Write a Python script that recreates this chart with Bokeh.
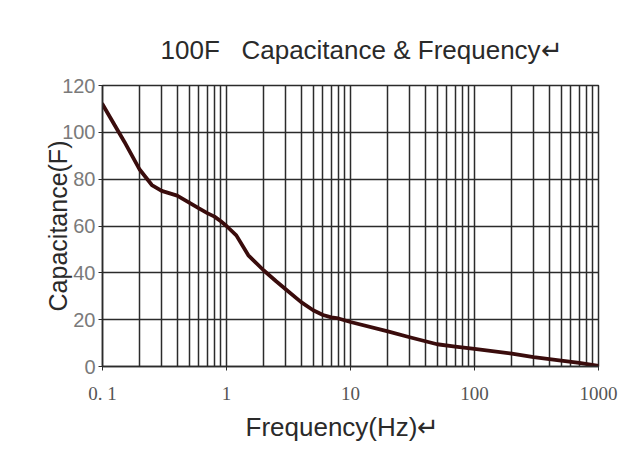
from bokeh.plotting import figure
from bokeh.models import FixedTicker, Range1d, Title
from bokeh.embed import file_html
from bokeh.resources import INLINE

# ---- data ----
freq = [0.1, 0.15, 0.2, 0.25, 0.3, 0.4, 0.5, 0.6, 0.7, 0.8, 0.9, 1, 1.2, 1.5, 2, 2.5, 3, 4, 5,
        6, 7, 8, 10, 20, 30, 50, 70, 100, 200, 300, 500, 700, 1000]
cap = [112, 96, 84, 77.5, 75, 73, 70, 67.5, 65.5, 64, 62, 60, 56, 47.5, 41, 36.5, 33, 27.5, 24,
       22, 21, 20.5, 19, 15, 12.5, 9.5, 8.5, 7.5, 5.5, 4, 2.5, 1.5, 0.3]

x_major = [0.1, 1, 10, 100, 1000]
x_minor = [m * d for d in [0.1, 1, 10, 100] for m in range(2, 10)]
x_labels = {0.1: "0. 1", 1: "1", 10: "10", 100: "100", 1000: "1000"}
y_ticks = [0, 20, 40, 60, 80, 100, 120]

NB = "\u00a0"
title_text = "100F" + NB * 3 + "Capacitance & Frequency\u21b5"
x_title = "Frequency(Hz)\u21b5"
y_title = "Capacitance(F)"

GRID = "#2b2b2b"
FONT = "Liberation Sans"

p = figure(width=627, height=445, x_axis_type="log",
           x_range=Range1d(0.1, 1000), y_range=Range1d(0, 120),
           output_backend="svg", toolbar_location=None,
           min_border_left=102, min_border_right=29,
           min_border_top=85, min_border_bottom=79)
p.background_fill_color = "white"
p.border_fill_color = "white"
p.outline_line_color = GRID
p.outline_line_width = 1.5

p.title.text = title_text
p.title.align = "left"
p.title.offset = 58
p.title.text_font = FONT
p.title.text_font_size = "26px"
p.title.text_font_style = "normal"
p.title.text_color = "#2a2a2a"
p.title.standoff = 42

p.xaxis.ticker = FixedTicker(ticks=x_major, minor_ticks=x_minor)
p.xaxis.major_label_overrides = x_labels
p.yaxis.ticker = FixedTicker(ticks=y_ticks)

for ax in (p.xaxis, p.yaxis):
    ax.axis_line_color = GRID
    ax.axis_line_width = 1.5
    ax.major_tick_out = 4
    ax.major_tick_in = 0
    ax.major_tick_line_color = GRID
    ax.minor_tick_out = 0
    ax.minor_tick_in = 0

p.xaxis.major_label_text_font = "Liberation Serif"
p.xaxis.major_label_text_font_size = "19px"
p.xaxis.major_label_text_color = "#555555"
p.xaxis.major_label_standoff = 12

p.yaxis.major_label_text_font = FONT
p.yaxis.major_label_text_font_size = "20px"
p.yaxis.major_label_text_color = "#7a7a7a"
p.yaxis.major_label_standoff = 3

p.yaxis.axis_label = y_title
p.yaxis.axis_label_text_font = FONT
p.yaxis.axis_label_text_font_size = "25px"
p.yaxis.axis_label_text_font_style = "normal"
p.yaxis.axis_label_text_color = "#2a2a2a"
p.yaxis.axis_label_standoff = -13

xt = Title(text=x_title, align="left", offset=143, text_font=FONT, text_font_size="26px",
           text_font_style="normal", text_color="#2a2a2a", standoff=6)
p.add_layout(xt, "below")

p.xgrid.grid_line_color = GRID
p.xgrid.grid_line_width = 1.5
p.xgrid.minor_grid_line_color = GRID
p.xgrid.minor_grid_line_width = 1.5
p.ygrid.grid_line_color = GRID
p.ygrid.grid_line_width = 1.5

p.line(freq, cap, line_color="#3a0c0c", line_width=3.8, line_join="round", line_cap="round")

open("out.html", "w").write(file_html(p, INLINE))
